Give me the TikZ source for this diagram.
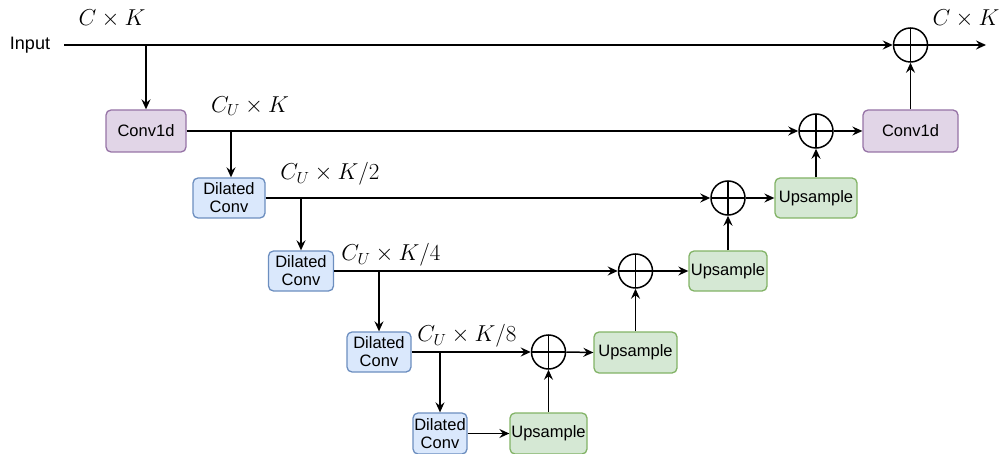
\RequirePackage{fix-cm}
\documentclass[tikz,border=0pt]{standalone}
\usepackage{fontspec}
\setmainfont{Liberation Sans}
\usetikzlibrary{arrows.meta}

\definecolor{convfill}{HTML}{E1D5E7}
\definecolor{convline}{HTML}{9673A6}
\definecolor{dilfill}{HTML}{DAE8FC}
\definecolor{dilline}{HTML}{6C8EBF}
\definecolor{upfill}{HTML}{D5E8D4}
\definecolor{upline}{HTML}{82B366}

\tikzset{
  box/.style={draw, line width=1.3pt, rounded corners=5pt, align=center,
    inner sep=0pt, font=\fontsize{16.5}{18}\selectfont},
  convbox/.style={box, fill=convfill, draw=convline},
  dilbox/.style={box, fill=dilfill, draw=dilline},
  upbox/.style={box, fill=upfill, draw=upline},
  sumnode/.style={circle, draw, line width=1.5pt, minimum size=34pt, inner sep=0pt,
    path picture={
      \draw[line width=1.5pt] (path picture bounding box.north) -- (path picture bounding box.south)
        (path picture bounding box.west) -- (path picture bounding box.east);}},
  arr/.style={line width=1.5pt, -{Stealth[length=10pt,width=9pt,inset=3.5pt]}},
  dim/.style={font=\fontsize{23}{26}\selectfont, inner sep=0pt}
}

\begin{document}
\begin{tikzpicture}[x=1pt,y=-1pt]
\useasboundingbox (0,0) rectangle (1000,454);

% input and output
\node[font=\fontsize{18}{20}\selectfont, inner sep=0pt] (in) at (30,45) {Input};
\coordinate (s0) at (64,45);
\coordinate (out) at (986,45);

% encoder side
\node[convbox, minimum width=80pt, minimum height=42pt] (c1) at (146,131) {Conv1d};
\node[dilbox, minimum width=72pt, minimum height=40pt] (d1) at (229,198) {Dilated\\Conv};
\node[dilbox, minimum width=65pt, minimum height=40pt] (d2) at (301,271) {Dilated\\Conv};
\node[dilbox, minimum width=64pt, minimum height=40pt] (d3) at (379,352) {Dilated\\Conv};
\node[dilbox, minimum width=54pt, minimum height=41pt] (d4) at (440,433.5) {Dilated\\Conv};

% decoder side
\node[upbox, minimum width=77pt, minimum height=41pt] (u1) at (548.5,433.5) {Upsample};
\node[upbox, minimum width=83pt, minimum height=41pt] (u2) at (635.5,352.5) {Upsample};
\node[upbox, minimum width=78pt, minimum height=40pt] (u3) at (728,271) {Upsample};
\node[upbox, minimum width=82pt, minimum height=40pt] (u4) at (816,198) {Upsample};
\node[convbox, minimum width=95pt, minimum height=42pt] (c2) at (910.5,131) {Conv1d};

% summation nodes
\node[sumnode] (p1) at (910.5,45) {};
\node[sumnode] (p2) at (816,131) {};
\node[sumnode] (p3) at (728,198) {};
\node[sumnode] (p4) at (635.5,271) {};
\node[sumnode] (p5) at (548.5,352) {};

% skip connections
\draw[arr] (s0) -- (p1.west);
\draw[arr] (c1.east) -- (p2.west);
\draw[arr] (d1.east) -- (p3.west);
\draw[arr] (d2.east) -- (p4.west);
\draw[arr] (d3.east) -- (p5.west);
\draw[arr] (d4.east) -- (u1.west);

% downward branches
\draw[arr] (c1.north |- s0) -- (c1.north);
\draw[arr] ([xshift=2pt]d1.north |- c1.east) -- ([xshift=2pt]d1.north);
\draw[arr] (d2.north |- d1.east) -- (d2.north);
\draw[arr] (d3.north |- d2.east) -- (d3.north);
\draw[arr] (d4.north |- d3.east) -- (d4.north);

% upward path
\draw[arr] (u1.north) -- (p5.south);
\draw[arr] (p5.east) -- (u2.west);
\draw[arr] (u2.north) -- (p4.south);
\draw[arr] (p4.east) -- (u3.west);
\draw[arr] (u3.north) -- (p3.south);
\draw[arr] (p3.east) -- (u4.west);
\draw[arr] (u4.north) -- (p2.south);
\draw[arr] (p2.east) -- (c2.west);
\draw[arr] (c2.north) -- (p1.south);
\draw[arr] (p1.east) -- (out);

% tensor shapes
\node[dim] (l0) at (112,19) {$C\times K$};
\node[dim] (l6) at (966,19) {$C\times K$};
\node[dim] (l1) at (250,106) {$C_U\times K$};
\node[dim] (l2) at (330,174) {$C_U\times K/2$};
\node[dim] (l3) at (391,255) {$C_U\times K/4$};
\node[dim] (l4) at (467,336) {$C_U\times K/8$};
\end{tikzpicture}
\end{document}
